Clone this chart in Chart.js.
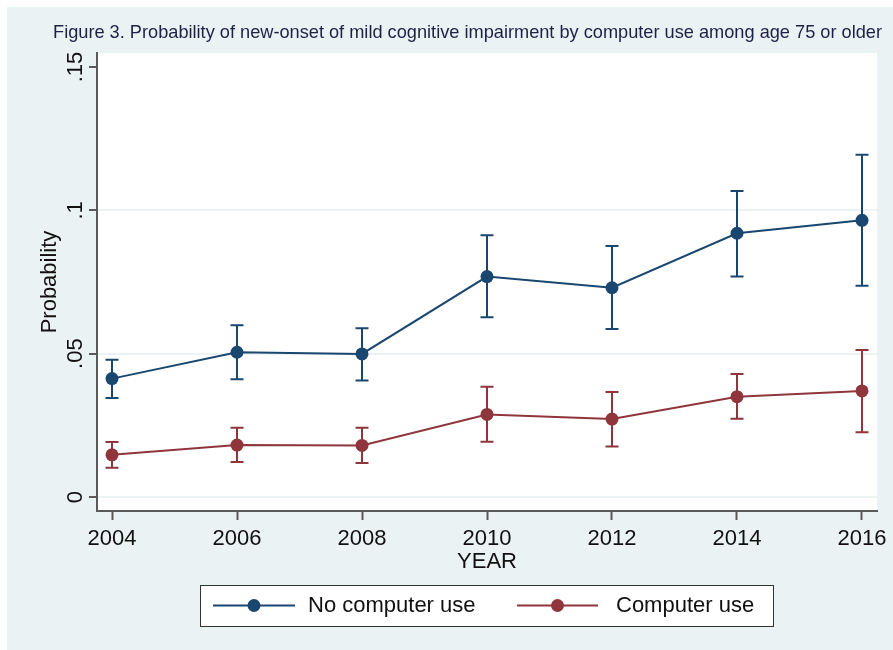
<!DOCTYPE html>
<html>
<head>
<meta charset="utf-8">
<script src="https://cdn.jsdelivr.net/npm/chart.js@4/dist/chart.umd.min.js"></script>
<style>
  html, body { margin: 0; padding: 0; background: #ffffff; }
  #wrap { position: relative; width: 893px; height: 650px; }
</style>
</head>
<body>
<div id="wrap"><canvas id="c" width="893" height="650"></canvas></div>
<script>
// Survey waves
const years = [2004, 2006, 2008, 2010, 2012, 2014, 2016];

// Predicted probability of new-onset MCI, with 95% confidence limits
const noComputer   = [0.0413, 0.0505, 0.0499, 0.0769, 0.0730, 0.0920, 0.0965];
const noComputerLo = [0.0345, 0.0411, 0.0406, 0.0627, 0.0586, 0.0769, 0.0737];
const noComputerHi = [0.0479, 0.0599, 0.0589, 0.0913, 0.0876, 0.1067, 0.1194];

const computer   = [0.0147, 0.0181, 0.0180, 0.0288, 0.0272, 0.0350, 0.0370];
const computerLo = [0.0102, 0.0122, 0.0119, 0.0193, 0.0176, 0.0273, 0.0226];
const computerHi = [0.0192, 0.0242, 0.0242, 0.0385, 0.0366, 0.0429, 0.0513];

const yTicks = [0, 0.05, 0.1, 0.15];
const yTickLabels = ['0', '.05', '.1', '.15'];

const seriesNames = ['No computer use', 'Computer use'];
const titleText = 'Figure 3. Probability of new-onset of mild cognitive impairment by computer use among age 75 or older';

const NAVY = '#1a476f';
const MAROON = '#90353b';
const AXIS = '#5a5a5a';
const PANEL = '#eaf2f3';
const GRID = '#edf3f5';
const FONT = '"Liberation Sans", Arial, sans-serif';

const toPoints = (vals) => years.map((x, i) => ({ x: x, y: vals[i] }));

// Graph background, panel and plot region
const backdrop = {
  id: 'backdrop',
  beforeDraw(chart) {
    const { ctx, chartArea: a } = chart;
    ctx.save();
    ctx.fillStyle = '#ffffff';
    ctx.fillRect(0, 0, chart.width, chart.height);
    ctx.fillStyle = PANEL;
    ctx.fillRect(7, 7, chart.width - 7, chart.height - 7);
    ctx.fillStyle = '#ffffff';
    ctx.fillRect(a.left, a.top, a.right - a.left, a.bottom - a.top);
    ctx.restore();
  }
};

// Capped confidence-interval spikes
const errorBars = {
  id: 'errorBars',
  beforeDatasetsDraw(chart) {
    const { ctx, scales: { x, y } } = chart;
    const sets = [
      { lo: noComputerLo, hi: noComputerHi, color: NAVY },
      { lo: computerLo, hi: computerHi, color: MAROON }
    ];
    ctx.save();
    ctx.lineWidth = 2;
    sets.forEach(s => {
      ctx.strokeStyle = s.color;
      years.forEach((yr, i) => {
        const px = x.getPixelForValue(yr);
        const pLo = y.getPixelForValue(s.lo[i]);
        const pHi = y.getPixelForValue(s.hi[i]);
        ctx.beginPath();
        ctx.moveTo(px, pLo); ctx.lineTo(px, pHi);
        ctx.moveTo(px - 6.5, pLo); ctx.lineTo(px + 6.5, pLo);
        ctx.moveTo(px - 6.5, pHi); ctx.lineTo(px + 6.5, pHi);
        ctx.stroke();
      });
    });
    ctx.restore();
  }
};

// Title, rotated y labels, axis titles and the boxed legend
const annotations = {
  id: 'annotations',
  afterDraw(chart) {
    const { ctx, chartArea: a, scales: { y } } = chart;
    ctx.save();

    ctx.fillStyle = '#1c2245';
    ctx.font = '18.2px ' + FONT;
    ctx.textAlign = 'center';
    ctx.textBaseline = 'middle';
    ctx.fillText(titleText, 467.5, 33);

    ctx.fillStyle = '#111111';
    ctx.font = '22px ' + FONT;
    yTicks.forEach((v, i) => {
      ctx.save();
      ctx.translate(82, y.getPixelForValue(v));
      ctx.rotate(-Math.PI / 2);
      ctx.textAlign = 'center';
      ctx.textBaseline = 'alphabetic';
      ctx.fillText(yTickLabels[i], 0, 0);
      ctx.restore();
    });

    ctx.save();
    ctx.translate(55.5, (a.top + a.bottom) / 2);
    ctx.rotate(-Math.PI / 2);
    ctx.textAlign = 'center';
    ctx.textBaseline = 'alphabetic';
    ctx.fillText('Probability', 0, 0);
    ctx.restore();

    ctx.textAlign = 'center';
    ctx.textBaseline = 'middle';
    ctx.fillText('YEAR', (a.left + a.right) / 2, 562);

    // legend
    ctx.fillStyle = '#ffffff';
    ctx.fillRect(200, 585, 573, 41);
    ctx.strokeStyle = '#333333';
    ctx.lineWidth = 1;
    ctx.strokeRect(200.5, 585.5, 573, 41);
    const items = [
      { x0: 213, x1: 295, text: seriesNames[0], tx: 308, color: NAVY },
      { x0: 517, x1: 598, text: seriesNames[1], tx: 616, color: MAROON }
    ];
    const ly = 605.5;
    items.forEach(it => {
      ctx.strokeStyle = it.color;
      ctx.lineWidth = 2;
      ctx.beginPath();
      ctx.moveTo(it.x0, ly); ctx.lineTo(it.x1, ly);
      ctx.stroke();
      ctx.fillStyle = it.color;
      ctx.beginPath();
      ctx.arc((it.x0 + it.x1) / 2, ly, 6.5, 0, Math.PI * 2);
      ctx.fill();
      ctx.fillStyle = '#111111';
      ctx.textAlign = 'left';
      ctx.textBaseline = 'middle';
      ctx.fillText(it.text, it.tx, ly);
    });
    ctx.restore();
  }
};

new Chart(document.getElementById('c'), {
  type: 'line',
  data: {
    datasets: [
      {
        label: seriesNames[0],
        data: toPoints(noComputer),
        borderColor: NAVY,
        backgroundColor: NAVY,
        borderWidth: 2,
        pointRadius: 6.5,
        pointBorderWidth: 0,
        pointBackgroundColor: NAVY,
        tension: 0
      },
      {
        label: seriesNames[1],
        data: toPoints(computer),
        borderColor: MAROON,
        backgroundColor: MAROON,
        borderWidth: 2,
        pointRadius: 6.5,
        pointBorderWidth: 0,
        pointBackgroundColor: MAROON,
        tension: 0
      }
    ]
  },
  options: {
    responsive: false,
    animation: false,
    devicePixelRatio: 1,
    layout: { padding: { top: 53, right: 16, bottom: 0, left: 0 } },
    plugins: {
      legend: { display: false },
      title: { display: false },
      tooltip: { enabled: false }
    },
    scales: {
      x: {
        type: 'linear',
        min: 2003.76,
        max: 2016.24,
        afterBuildTicks(s) { s.ticks = years.map(v => ({ value: v })); },
        afterFit(s) { s.height = 139; },
        grid: { drawOnChartArea: false, drawTicks: true, tickLength: 9, tickColor: AXIS, tickWidth: 2 },
        border: { color: AXIS, width: 2 },
        ticks: {
          autoSkip: false, maxRotation: 0, minRotation: 0, padding: 6,
          color: '#111111',
          font: { family: FONT, size: 22 },
          callback: v => String(v)
        }
      },
      y: {
        type: 'linear',
        min: -0.00488,
        max: 0.15488,
        afterBuildTicks(s) { s.ticks = yTicks.map(v => ({ value: v })); },
        afterFit(s) { s.width = 97; },
        grid: {
          color: c => (c.tick && c.tick.value === 0.15 ? 'rgba(0,0,0,0)' : GRID),
          lineWidth: 2, drawTicks: true, tickLength: 8, tickColor: AXIS, tickWidth: 2
        },
        border: { color: AXIS, width: 2 },
        ticks: { display: false }
      }
    }
  },
  plugins: [backdrop, errorBars, annotations]
});
</script>
</body>
</html>
